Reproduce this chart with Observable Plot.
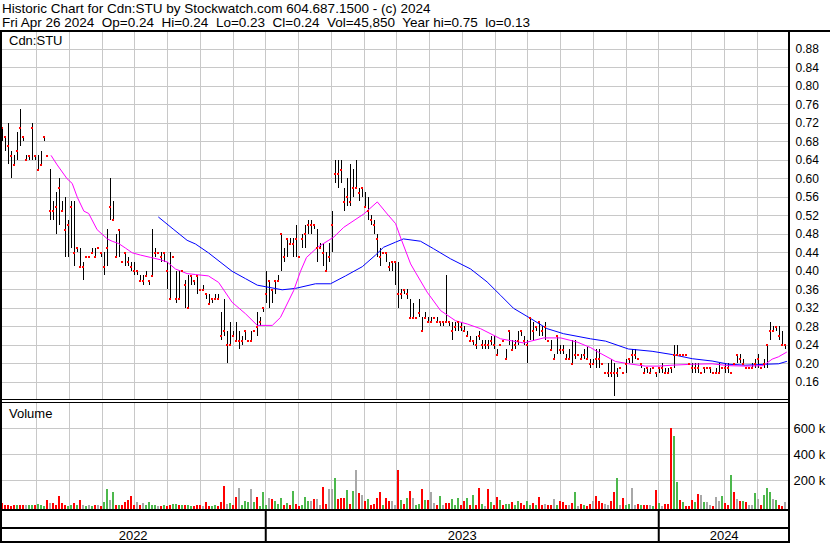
<!DOCTYPE html>
<html><head><meta charset="utf-8">
<script src="https://cdn.jsdelivr.net/npm/d3@7"></script>
<script src="https://cdn.jsdelivr.net/npm/@observablehq/plot@0.6"></script>
<style>
body{margin:0;background:#fff;font-family:Arial,"Liberation Sans",sans-serif;color:#000}
#wrap{position:relative;width:830px;height:543px;overflow:hidden;background:#fff}
.ln{position:absolute;background:#000}
.txt{position:absolute;white-space:pre;color:#000}
</style></head><body><div id="wrap"></div>
<script>
// ---------- data (prices in cents, one slot ≈ 2 trading days, May 2022 – Apr 26 2024) ----------
const high = [
71,69,72,66,65,70,75,69,65,65, 72,65,65,66,69,65,62,55,57,60, 55,56,51,55,55,45,45,42,43,43,
45,45,45,44,44,49,60,55,48,49, 42,44,43,42,42,40,39,39,40,38, 49,45,44,44,44,42,44,43,40,40,
40,38,39,39,38,39,36,37,35,35, 34,35,35,31,34,27,29,27,29,27, 26,27,25,27,27,31,30,32,40,38,
36,38,39,48,45,47,47,47,50,43, 48,50,51,51,50,49,46,46,44,46, 53,64,64,64,58,60,63,62,64,58,
58,57,56,52,51,48,45,44,44,42, 42,42,42,36,36,36,34,33,30,34, 30,31,30,30,30,30,29,29,39,29,
29,29,29,29,28,27,26,25,26,27, 25,25,25,26,26,23,24,25,23,27, 25,25,27,27,26,25,30,29,28,29,
28,29,25,25,22,26,24,24,22,23, 25,25,22,22,23,23.5,21,21,23,23, 20,18,20,21,20,19,19,18,21,21,
23,23,21,20,19,19,19,19,18,19, 20,19,19,19,24,24,22,22,22,20, 20,20,20,18,19,19,19,18,19,20,
19,20,20,18,20,22,22,21,19,19, 20,21,22,19,21,24,29,28,28,28, 27,24];
const low = [
68,66,63,60,63,64,67,68,64,64, 64,64,62,63,68,65,51,51,48,50, 53,43,43,45,41,44,41,38,43,43,
44,43,45,43,39,41,51,51,43,43, 42,41,41,40,39,39,38,37,39,37, 39,43,44,42,42,36,34,43,33,34,
40,32,32,37,37,35,36,36,34,33, 33,34,34,25,26,20,24,26,25,23, 24,25,25,25,27,26,28,31,33,32,
33,35,38,40,42,43,46,43,43,43, 45,45,48,48,49,42,45,41,40,42, 44,59,58,59,53,54,54,56,58,55,
56,54,51,50,48,43,41,44,42,40, 40,37,32,34,35,34,30,30,30,30, 27,30,29,29,30,29,28,28,29,28,
25,27,27,27,27,26,25,24,23,25, 23,23,23,24,23,22,24,25,21,24, 23,23,24,26,24,20,25,25,27,26,
26,25,25,23,21,22,22,22,21,21, 20,21,22,21,21,21,19,20,19,19, 20,18,17,17,13,17,19,18,18,20,
20,21,21,19,18,18,18,19,17,18, 18,18,18,18,19,22,22,22,22,20, 18,18,18,18,18,19,18,18,18,18,
19,18,18,18,20,20,20,20,19,19, 19,19,19,19,19,19,25,27,27,25, 24,23];
const close = [
71,69,67,65,63,66,71,69,64,65, 71,65,62,63,69,65,53,53,54,58, 53,49,50,54,44,45,41,41,43,43,
44,43,45,44,41,45,54,51,43,49, 42,44,42,41,40,40,38,38,39,38, 39,44,44,43,44,40,34,43,34,34,
40,37,32,39,38,39,36,36,35,33, 34,34,34,26,27,24,24,26,25,25, 25,27,25,25,27,28,29,32,35,38,
36,38,38,48,43,47,46,46,47,43, 47,48,50,50,50,45,45,44,40,43, 50,61,61,62,55,56,55,58,58,57,
58,54,53,51,50,47,43,44,44,41, 42,42,35,35,36,35,30,30,30,31, 27,30,29,29,30,29,29,29,29,29,
27,28,29,28,27,26,25,25,24,26, 24,24,24,25,24,22,24,25,21,27, 23,24,25,27,25,24,30,27,28,29,
27,28,25,23,21,26,23,23,21,21, 20,22,22,21,22,21,20,20,21,21, 20,18,18,18,18,18,19,18,20,21,
22,22,21,20,18,19,18,19,18,19, 19,18,18,19,22,22,22,22,22,20, 19,19,19,18,19,19,19,18,18,18,
19,19,19,18,20,22,21,20,19,19, 19,20,21,19,20,24,27,27,28,26, 24,24];
// volume in thousands of shares
const volume = [
23,13,8,5,8,10,12,10,12,12, 8,12,20,8,5,50,25,22,12,77, 22,10,5,8,25,10,45,10,5,12,
5,8,8,5,32,130,45,108,10,8, 8,30,50,77,12,35,8,22,10,35, 12,10,5,5,8,5,8,15,15,12,
8,12,12,5,5,8,8,6,30,5, 5,8,5,35,160,15,25,8,70,138, 12,40,35,131,35,70,5,110,8,62,
54,44,20,62,10,23,8,115,15,5, 10,69,38,38,54,54,10,146,20,130, 130,215,54,62,62,123,20,115,277,100,
85,38,54,10,15,62,108,10,62,38, 38,10,277,46,15,62,115,62,10,15, 131,46,46,108,23,10,77,10,23,23,
54,10,62,10,38,62,8,85,10,138, 15,5,131,31,10,69,46,8,15,15, 31,10,38,23,10,38,10,23,10,69,
10,15,10,8,54,10,38,36,10,8, 28,108,5,15,8,5,20,41,82,41, 28,20,10,41,108,215,10,62,8,15,
138,10,15,10,10,8,10,5,123,28, 5,15,15,605,538,185,46,31,5,5, 46,31,92,87,31,36,10,5,72,41,
77,26,10,241,108,56,41,41,36,10, 8,103,56,10,87,138,108,56,46,8, 5,36];
// volume bar colour: u = up (green), d = down (red), n = unchanged (grey), . = not legible
const volSide = [
"d","d",".",".",".",".","d",".","n",".", ".","d","u",".",".","d","n","d","d","d",
"d",".",".","u","d",".","d",".",".","n", ".",".","n",".","u","u","n","u",".",".",
".","d","d","d",".","n",".","n",".","u", "u",".",".",".",".",".",".","u","u","d",
".","d","u",".",".","d",".","n","d",".", ".","u","d","d","d","n","u","d","d","n",
"u","u","u","n","u","d",".","u",".","n", "d","u","u","u",".","u",".","u","d",".",
".","u","u","n","d","n",".","d",".","n", "n","u","d","d","d","u",".","u","n","d",
"n","d","u","d",".","d","d","u","d","d", "n",".","d","u","d","u","d","n","u",".",
"d","u","d","n","n",".","u",".","d","d", "u",".","u","d","d","u","d","u",".","d",
"u",".","d","u",".","d","u","d","u","u", "d",".","u","d",".","u",".","d",".","d",
".","n",".",".","n",".","d","d",".",".", "d","u",".","d",".",".","d","n","d","d",
"d","n","n","d","d","u","n","d","u","u", "n",".","d","u","d","d","n",".","d","u",
"n","d","d","d","u","u","d","u","d","d", "d","u","d","n","u","n","n","d","n","n",
"u","d","d","u","d","n","d","u","d","n", ".","u","n","d","u","u","u","n","u","d",
"d","n"];
// moving averages (slot index, price)
const maFastX = [16.9,18.9,22.2,23.9,25.6,27.8,29.4,32.2,35.6,37.2,39.4,41.7,43.9,46.7,50,53.3,55.6,58.3,62.2,65,69.3,72.7,77.2,81.7,85.6,90.6,93.3,97.7,100,102,105.7,111.1,114.4,121.1,125.6,128.9,131.7,133.3,136.7,138.3,142.2,146.7,151.7,155.6,160,166.7,174.4,181.1,186.7,192.2,196.7,199.3,205,209.4,215,219.3,223.9,230.6,237.2,242.7,248.3,254.3,257.2,259.3,262];
const maFastV = [0.65,0.63,0.60,0.59,0.56,0.53,0.525,0.49,0.47,0.465,0.46,0.45,0.44,0.435,0.43,0.425,0.42,0.405,0.395,0.393,0.39,0.376,0.333,0.308,0.283,0.283,0.30,0.358,0.40,0.43,0.452,0.474,0.495,0.524,0.55,0.524,0.503,0.474,0.416,0.398,0.355,0.315,0.293,0.286,0.276,0.254,0.245,0.256,0.256,0.247,0.235,0.225,0.205,0.20,0.195,0.195,0.197,0.199,0.20,0.196,0.195,0.196,0.21,0.215,0.225];
const maSlowX = [52.7,57.8,62.2,65,69.3,77.2,81.7,85.6,93.9,98.3,105,110,115,120.6,125,127.7,131.7,134.3,140,144.3,150,156.7,162.2,166.7,171,176.7,182.2,187.7,196.7,201.7,209.3,217.2,223.9,230.6,237.2,242.8,248.3,255,259.4,262];
const maSlowV = [0.517,0.49,0.467,0.459,0.44,0.40,0.384,0.37,0.36,0.363,0.373,0.373,0.39,0.41,0.435,0.452,0.463,0.47,0.465,0.449,0.427,0.405,0.377,0.348,0.32,0.298,0.276,0.265,0.254,0.249,0.232,0.227,0.22,0.211,0.206,0.199,0.197,0.199,0.20,0.205];
const priceTicks = [0.16,0.20,0.24,0.28,0.32,0.36,0.40,0.44,0.48,0.52,0.56,0.60,0.64,0.68,0.72,0.76,0.80,0.84,0.88];
const volTicks = [200,400,600];
const months = ["Jun","Jul","Aug","Sep","Oct","Nov","Dec","Jan","Feb","Mar","Apr","May","Jun","Jul","Aug","Sep","Oct","Nov","Dec","Jan","Feb","Mar","Apr"];
const years = ["2022","2023","2024"];
const titleLine1 = "Historic Chart for Cdn:STU by Stockwatch.com 604.687.1500 - (c) 2024";
const titleLine2 = "Fri Apr 26 2024  Op=0.24  Hi=0.24  Lo=0.23  Cl=0.24  Vol=45,850  Year hi=0.75  lo=0.13";

// ---------- derived tables ----------
const SLOTS = 263;
const SIDE_COLOR = {u: "#4cb84c", d: "#ff0000", n: "#a8a8a8"};
const bars = high.map((h, i) => {
  const derived = i === 0 ? "d" : close[i] > close[i-1] ? "u" : close[i] < close[i-1] ? "d" : "n";
  const side = volSide[i] && volSide[i] !== "." ? volSide[i] : derived;
  return {i, x: i + 0.5, hi: h / 100, lo: low[i] / 100, cl: close[i] / 100, vol: volume[i], col: SIDE_COLOR[side]};
});
const maFast = maFastX.map((x, i) => ({x, v: maFastV[i]}));
const maSlow = maSlowX.map((x, i) => ({x, v: maSlowV[i]}));
const monthX = months.map((m, k) => (36 + 32.75 * k) / 3);
const yearBounds = [monthX[7], monthX[19]];
const yearEdges = [0, ...yearBounds, SLOTS];
const yearLabels = years.map((y, k) => ({y, x: (yearEdges[k] + yearEdges[k+1]) / 2}));

const FONT = "Arial, 'Liberation Sans', sans-serif";
const GRID = "#c8c8c8";
const common = {width: 830, marginLeft: 0, marginRight: 41, marginTop: 0, marginBottom: 0,
  style: {fontFamily: FONT, color: "#000", background: "transparent", overflow: "visible"}};

const wrap = document.getElementById("wrap");
function place(el, top) { el.style.position = "absolute"; el.style.left = "0px"; el.style.top = top + "px"; wrap.appendChild(el); }

// price panel
const price = Plot.plot({
  ...common, height: 367,
  x: {domain: [0, SLOTS], axis: null},
  y: {domain: [0.1228, 0.9163], axis: null},
  marks: [
    Plot.ruleY(priceTicks, {stroke: GRID, shapeRendering: "crispEdges"}),
    Plot.ruleX(monthX, {stroke: GRID, shapeRendering: "crispEdges"}),
    Plot.axisY(priceTicks, {anchor: "right", tickSize: 0, tickPadding: 6, tickFormat: d => d.toFixed(2), fontSize: 12, label: null}),
    Plot.ruleX(bars, {x: "x", y1: "lo", y2: "hi", stroke: "#000", strokeWidth: 1, shapeRendering: "crispEdges"}),
    Plot.line(maSlow, {x: "x", y: "v", stroke: "#0000ff", strokeWidth: 1}),
    Plot.line(maFast, {x: "x", y: "v", stroke: "#ff00ff", strokeWidth: 1}),
    Plot.dot(bars, {x: "x", y: "cl", symbol: "square", r: 1.1, fill: "#ff0000", stroke: null, shapeRendering: "crispEdges"})
  ]
});
place(price, 32);

// volume panel
const vol = Plot.plot({
  ...common, height: 106,
  x: {domain: [0, SLOTS], axis: null},
  y: {domain: [0, 600], range: [103.3, 25.3], axis: null},
  color: {type: "identity"},
  marks: [
    Plot.ruleY(volTicks, {stroke: GRID, shapeRendering: "crispEdges"}),
    Plot.ruleX(monthX, {stroke: GRID, shapeRendering: "crispEdges"}),
    Plot.axisY(volTicks, {anchor: "right", tickSize: 0, tickPadding: 4, tickFormat: d => d + " k", fontSize: 13, label: null}),
    Plot.rect(bars, {x1: "i", x2: d => d.i + 1, y1: 0, y2: "vol", fill: "col", insetLeft: 0.5, insetRight: 0.5, insetBottom: -3, shapeRendering: "crispEdges"})
  ]
});
place(vol, 403);

// time axis strip
const axis = Plot.plot({
  ...common, height: 30,
  x: {domain: [0, SLOTS], axis: null},
  marks: [
    Plot.ruleX(yearBounds, {stroke: "#000", strokeWidth: 2}),
    Plot.text(yearLabels, {x: "x", text: "y", frameAnchor: "bottom", lineAnchor: "bottom", dy: -2, fontSize: 13, fill: "#000"})
  ]
});
place(axis, 511);

// texts
function txt(s, left, top, size, lh) {
  const d = document.createElement("div"); d.className = "txt"; d.textContent = s;
  d.style.left = left + "px"; d.style.top = top + "px"; d.style.fontSize = size + "px"; d.style.lineHeight = lh + "px";
  wrap.appendChild(d);
}
txt(titleLine1, 2, 3, 13.5, 12);
txt(titleLine2, 2, 16.5, 13.5, 12);
txt("Cdn:STU", 9, 34, 13, 13);
txt("Volume", 9, 406.5, 13, 13);

// frame lines
function ln(l, t, w, h) { const d = document.createElement("div"); d.className = "ln";
  Object.assign(d.style, {left: l + "px", top: t + "px", width: w + "px", height: h + "px"}); wrap.appendChild(d); }
ln(0, 29.5, 830, 2.5);
ln(0, 29.5, 2, 513);
ln(788, 29.5, 2, 513);
ln(0, 399, 790, 1.3);
ln(0, 401.7, 790, 1.3);
ln(0, 509, 790, 2);
ln(0, 526.5, 790, 2);
ln(0, 540.5, 790, 2);
</script></body></html>
